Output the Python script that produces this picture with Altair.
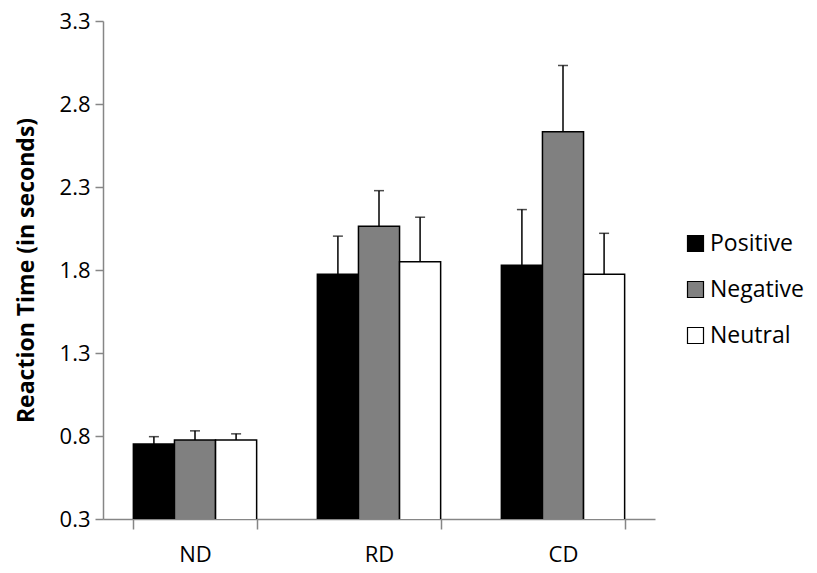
import altair as alt
import pandas as pd

categories = ["ND", "RD", "CD"]
series = ["Positive", "Negative", "Neutral"]
positive = [0.752, 1.774, 1.828]
negative = [0.776, 2.063, 2.633]
neutral = [0.776, 1.850, 1.774]
positive_err = [0.044, 0.230, 0.336]
negative_err = [0.055, 0.215, 0.399]
neutral_err = [0.037, 0.268, 0.247]
colors = ["#000000", "#808080", "#ffffff"]
y_ticks = [0.3, 0.8, 1.3, 1.8, 2.3, 2.8, 3.3]

rows = []
for name, vals, errs in [("Positive", positive, positive_err),
                         ("Negative", negative, negative_err),
                         ("Neutral", neutral, neutral_err)]:
    for c, v, e in zip(categories, vals, errs):
        rows.append({"cat": c, "series": name, "value": v, "top": v + e})
df = pd.DataFrame(rows)

FONT = "Open Sans"
TITLE = "Reaction Time (in seconds)"

xscale = alt.Scale(paddingInner=0.33, paddingOuter=0.165)
yscale = alt.Scale(domain=[0.3, 3.3], zero=False, nice=False)
xoff = alt.XOffset("series:N", sort=series)

bars = alt.Chart(df).mark_bar(stroke="#000000", strokeWidth=1.5, clip=True).encode(
    x=alt.X("cat:N", sort=categories, title=None, scale=xscale,
            axis=alt.Axis(tickBand="extent", labelAngle=0)),
    xOffset=xoff,
    y=alt.Y("value:Q", scale=yscale, title=TITLE,
            axis=alt.Axis(values=y_ticks, format=".1f")),
    fill=alt.Fill("series:N", sort=series,
                  scale=alt.Scale(domain=series, range=colors),
                  legend=alt.Legend(title=None, orient="none", legendX=581,
                                    legendY=211, symbolType="square",
                                    symbolSize=256, symbolStrokeColor="#000000",
                                    symbolStrokeWidth=1.2, labelFontSize=23,
                                    labelFont=FONT, labelColor="#000000",
                                    labelOffset=3, rowPadding=22)),
)

err = alt.Chart(df).mark_rule(color="#000000", strokeWidth=1.5).encode(
    x=alt.X("cat:N", sort=categories, title=None),
    xOffset=xoff,
    y=alt.Y("value:Q", scale=yscale, title=TITLE),
    y2="top:Q",
)

caps = alt.Chart(df).mark_tick(color="#000000", thickness=1.5, size=10,
                               orient="horizontal").encode(
    x=alt.X("cat:N", sort=categories, title=None),
    xOffset=xoff,
    y=alt.Y("top:Q", scale=yscale, title=TITLE),
)

chart = alt.layer(bars, err, caps).properties(
    width=552, height=498,
    background="#ffffff",
    autosize=alt.AutoSizeParams(type="none"),
    padding={"left": 95, "top": 13, "right": 154, "bottom": 50},
).configure_view(strokeWidth=0).configure_axis(
    grid=False, domainColor="#868686", tickColor="#868686",
    domainWidth=1.5, tickWidth=1.5, labelFont=FONT, labelColor="#000000",
    titleFont=FONT, titleColor="#000000",
).configure_axisX(
    tickSize=10, labelPadding=15, labelFontSize=22,
).configure_axisY(
    tickSize=8, labelPadding=5, labelFontSize=22, titleFontSize=23,
    titleFontWeight="bold", titlePadding=21,
)

chart.save("out.html", embed_options={"renderer": "svg", "actions": False})
